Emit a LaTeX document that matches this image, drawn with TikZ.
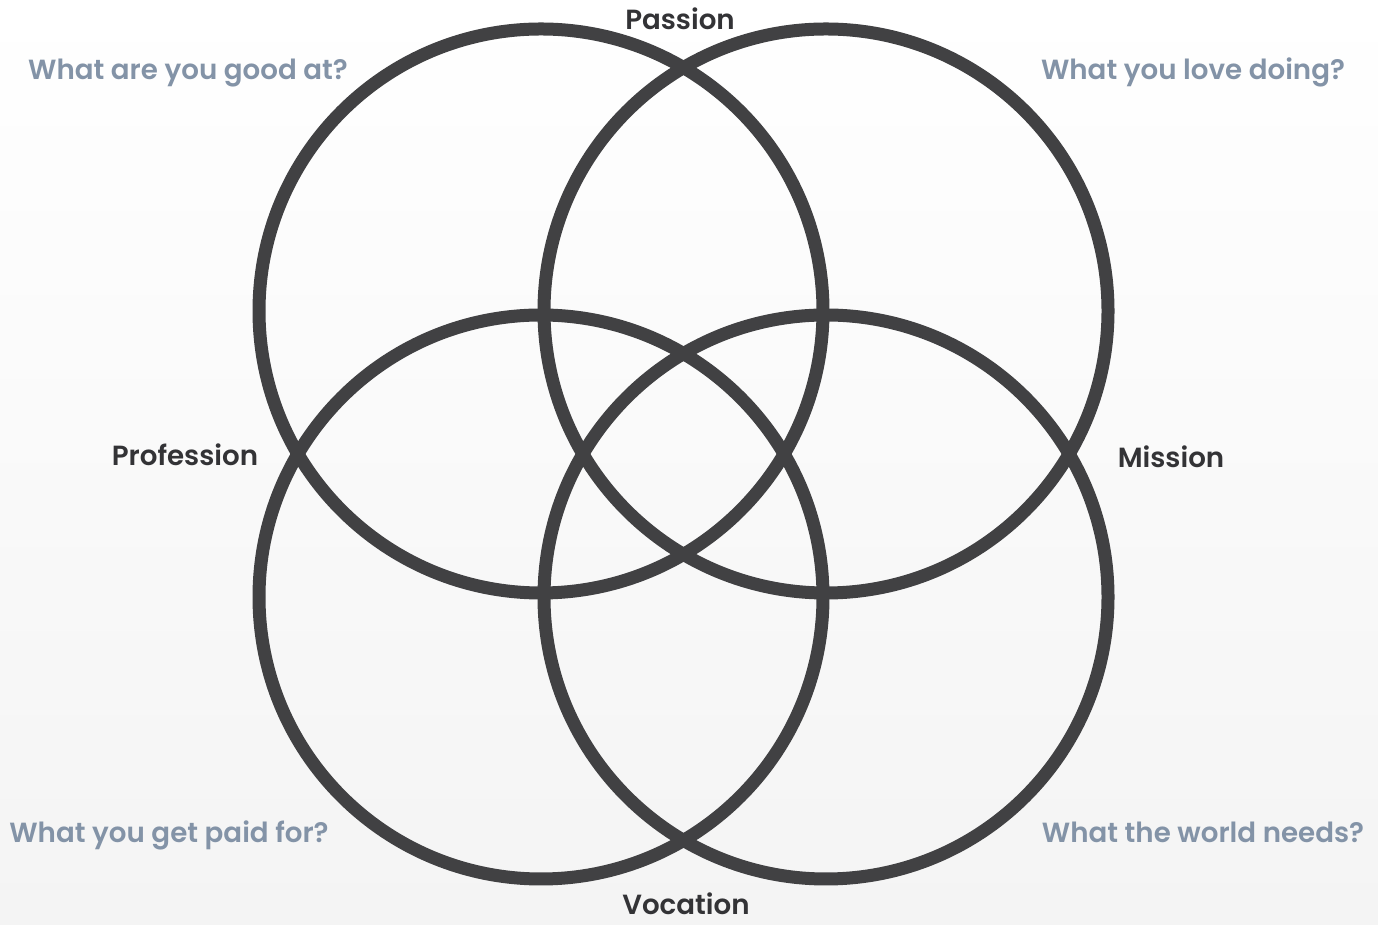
\documentclass[tikz,border=0pt]{standalone}
\usepackage{fontspec}
\setmainfont{Poppins}[BoldFont={Poppins SemiBold}]
\usepackage{tikz}
\usetikzlibrary{positioning}

\definecolor{ringgray}{HTML}{414143}
\definecolor{asktext}{HTML}{8393A7}
\definecolor{tagtext}{HTML}{333336}

\begin{document}
\begin{tikzpicture}[
    x=1pt, y=1pt,
    ring/.style={circle, draw=ringgray, line width=13pt, minimum size=564pt, inner sep=0pt},
    ask/.style={font=\fontsize{27.7}{32}\selectfont\bfseries, text=asktext, anchor=base},
    tag/.style={font=\fontsize{27.7}{32}\selectfont\bfseries, text=tagtext, anchor=base, text depth=0pt},
    every node/.style={inner sep=0pt}
  ]
  % ---- canvas ----
  \useasboundingbox (0,0) rectangle (1378,925);
  \shade[top color=white, middle color=white, bottom color={rgb,255:red,244;green,244;blue,244}] (0,0) rectangle (1378,925);

  % ---- circles ----
  \node[ring] (good)  at (541,614) {};
  \node[ring] (love)  at (826,614) {};
  \node[ring] (paid)  at (541,328) {};
  \node[ring] (needs) at (826,328) {};

  % ---- questions ----
  \node[ask] (qgood)  at (188,845)  {What are you good at?};
  \node[ask] (qlove)  at (1193,845) {What you love doing?};
  \node[ask] (qpaid)  at (169,82)   {What you get paid for?};
  \node[ask] (qneeds) at (1203,82)  {What the world needs?};

  % ---- overlaps ----
  \node[tag] (passion)    at (680,895) {Passion};
  \node[tag] (profession) at (185,459) {Profession};
  \node[tag] (mission)    at (1171,457) {Mission};
  \node[tag] (vocation)   at (686,10)  {Vocation};
\end{tikzpicture}
\end{document}
